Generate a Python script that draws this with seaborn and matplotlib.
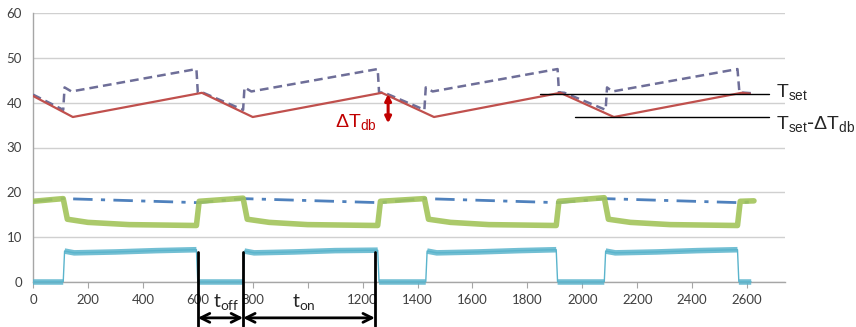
import numpy as np
import pandas as pd
import matplotlib
matplotlib.use("Agg")
import matplotlib.pyplot as plt
import seaborn as sns

# ---------------- data ----------------
tank_t = [0, 145, 615, 800, 1270, 1460, 1920, 2115, 2580, 2610]
tank_v = [41.5, 36.8, 42.2, 36.8, 42.2, 36.8, 42.2, 36.8, 42.2, 42.0]

supply_t = [0, 110, 115, 140, 595, 600, 620, 765, 770, 795, 1255, 1260, 1280,
            1425, 1430, 1455, 1910, 1915, 1935, 2085, 2090, 2110, 2565, 2572, 2620]
supply_v = [41.8, 38.4, 43.4, 42.5, 47.5, 42.3, 42.2, 38.4, 43.4, 42.5, 47.5, 42.3, 42.2,
            38.4, 43.4, 42.5, 47.5, 42.3, 42.2, 38.4, 43.4, 42.5, 47.5, 42.3, 42.1]

green_t = [0, 110, 125, 200, 350, 595, 605, 765, 780, 860, 1000, 1255, 1265,
           1425, 1440, 1520, 1660, 1905, 1915, 2080, 2095, 2175, 2320, 2565, 2575, 2625]
green_v = [18.0, 18.6, 14.0, 13.3, 12.8, 12.6, 18.0, 18.7, 14.0, 13.3, 12.8, 12.6, 18.0,
           18.6, 14.0, 13.3, 12.8, 12.6, 18.0, 18.8, 14.0, 13.3, 12.8, 12.6, 18.0, 18.1]

dashdot_t = [0, 110, 600, 765, 1260, 1425, 1910, 2080, 2570, 2620]
dashdot_v = [18.0, 18.6, 17.7, 18.6, 17.7, 18.6, 17.7, 18.6, 17.7, 17.9]

power_t = [0, 110, 115, 150, 300, 450, 595, 600, 765, 770, 805, 950, 1100, 1255, 1260,
           1430, 1435, 1470, 1620, 1770, 1905, 1910, 2080, 2085, 2120, 2270, 2420, 2565, 2570, 2615]
power_v = [0, 0, 6.9, 6.5, 6.7, 7.0, 7.2, 0, 0, 6.9, 6.5, 6.7, 7.0, 7.1, 0,
           0, 6.9, 6.5, 6.7, 7.0, 7.2, 0, 0, 6.9, 6.5, 6.7, 7.0, 7.2, 0, 0]

x_ticks = [0, 200, 400, 600, 800, 1000, 1200, 1400, 1600, 1800, 2000, 2200, 2400, 2600]
# the "1000" label is hidden behind the t_on label in the reference
x_labels = ['0', '200', '400', '600', '800', '', '1200', '1400', '1600', '1800',
            '2000', '2200', '2400', '2600']
y_ticks = [0, 10, 20, 30, 40, 50, 60]

t_set = 42.0
t_low = 36.9
t_off_start, t_off_end, t_on_end = 600, 765, 1245
# ----------------------------------------------------------------

sns.set_style("white")
plt.rcParams['font.family'] = ['Lato', 'DejaVu Sans']

fig = plt.figure(figsize=(8.56, 3.27), dpi=100)
ax = fig.add_axes([33/856, 1-282/327, (785-33)/856, (282-13)/327])

C_RED = "#c0504d"
C_PURPLE = "#6e6e98"
C_GREEN = "#a2c45a"
C_BLUE = "#4f81bd"
C_CYAN = "#5ab4cc"


def band(ts, vs, gap=20):
    """split a step series into flat parts (for the thick marker band)."""
    xs, ys = [], []
    for i in range(len(ts)):
        if i > 0 and ts[i] - ts[i-1] < gap and abs(vs[i] - vs[i-1]) > 2:
            xs.append(np.nan); ys.append(np.nan)
        xs.append(ts[i]); ys.append(vs[i])
    return xs, ys


# dash-dot series
sns.lineplot(x=dashdot_t, y=dashdot_v, ax=ax, color=C_BLUE, lw=2.0,
             linestyle=(0, (7, 3, 1.5, 3)), zorder=3)
# green series: thick fuzzy band
sns.lineplot(x=green_t, y=green_v, ax=ax, color=C_GREEN, lw=4.0, zorder=4)
ax.lines[-1].set_alpha(0.9)
# cyan series
sns.lineplot(x=power_t, y=power_v, ax=ax, color=C_CYAN, lw=1.0, zorder=4)
cx, cy = band(power_t, power_v)
ax.plot(cx, cy, color=C_CYAN, lw=4.0, alpha=0.85, zorder=4, solid_capstyle='butt',
        clip_on=False)
# supply temperature (dashed)
sns.lineplot(x=supply_t, y=supply_v, ax=ax, color=C_PURPLE, lw=1.8,
             linestyle=(0, (3.5, 2)), zorder=5)
# tank temperature
sns.lineplot(x=tank_t, y=tank_v, ax=ax, color=C_RED, lw=1.6, zorder=6)

ax.set_xlim(0, 2738)
ax.set_ylim(0, 60)
ax.set_xticks(x_ticks)
ax.set_xticklabels(x_labels)
ax.set_yticks(y_ticks)
ax.set_yticklabels([str(v) for v in y_ticks])
ax.set_xlabel("")
ax.set_ylabel("")
ax.grid(axis='y', color='#d0d0d0', lw=1.0)
ax.set_axisbelow(True)
for s in ['top', 'right']:
    ax.spines[s].set_visible(False)
for s in ['left', 'bottom']:
    ax.spines[s].set_color('#a6a6a6')
    ax.spines[s].set_linewidth(1.0)
ax.tick_params(axis='x', length=4, color='#a6a6a6', labelsize=9.5,
               labelcolor='#404040', pad=5, direction='out', bottom=True)
ax.tick_params(axis='y', length=0, labelsize=9.5, labelcolor='#404040', pad=8)

# T_set lines and labels
ax.plot([1846, 2680], [t_set, t_set], color='black', lw=1.0, zorder=7)
ax.plot([1974, 2680], [t_low, t_low], color='black', lw=1.0, zorder=7)
ax.text(2705, t_set + 0.3, r'$\mathregular{T_{set}}$', fontsize=14,
        family=['Liberation Sans', 'DejaVu Sans'], va='center', ha='left', clip_on=False)
ax.text(2705, 35.3, r'$\mathregular{T_{set}\text{-}\Delta T_{db}}$', fontsize=14,
        family=['Liberation Sans', 'DejaVu Sans'], va='center', ha='left', clip_on=False)

# Delta T_db annotation
ax.annotate('', xy=(1293, 35.4), xytext=(1293, 41.9),
            arrowprops=dict(arrowstyle='<|-|>', color='#c00000', lw=2.2,
                            mutation_scale=9, shrinkA=0, shrinkB=0), zorder=8)
ax.text(1100, 35.6, r'$\mathregular{\Delta T_{db}}$', fontsize=14, color='#c00000',
        family=['Liberation Sans', 'DejaVu Sans'], va='center', ha='left')

# t_off / t_on markers
for tx in (t_off_start, t_off_end, t_on_end):
    ax.plot([tx, tx], [6.8, -9.8], color='black', lw=2.0, clip_on=False, zorder=8)
ax.annotate('', xy=(t_off_start, -8.0), xytext=(t_off_end, -8.0),
            arrowprops=dict(arrowstyle='<->', color='black', lw=2.0,
                            mutation_scale=16, shrinkA=0, shrinkB=0),
            annotation_clip=False)
ax.annotate('', xy=(t_off_end, -8.0), xytext=(t_on_end, -8.0),
            arrowprops=dict(arrowstyle='<->', color='black', lw=2.0,
                            mutation_scale=16, shrinkA=0, shrinkB=0),
            annotation_clip=False)
ax.text(705, -4.4, r'$\mathregular{t_{off}}$', fontsize=14, ha='center', va='center',
        clip_on=False)
ax.text(985, -4.4, r'$\mathregular{t_{on}}$', fontsize=14, ha='center', va='center',
        clip_on=False)

fig.savefig("out.png", dpi=100)
